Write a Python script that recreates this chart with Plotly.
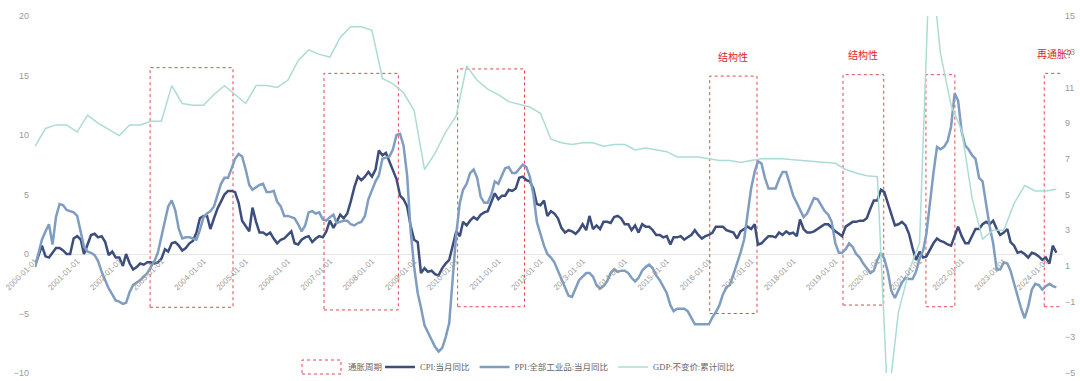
import pandas as pd
import plotly.graph_objects as go

# ---------------- data ----------------
# monthly observations (month-end), Dec 1999 .. Mar 2024
month_start = "2000-01-01"
n_months = 292

cpi = [-1.0,
       -0.2, 0.7, -0.2, -0.3, 0.1, 0.5, 0.5, 0.3, 0.0, 0.0, 1.3, 1.5,
       1.2, 0.0, 0.8, 1.6, 1.7, 1.4, 1.5, 1.0, -0.1, 0.2, -0.3, -0.3,
       -1.0, 0.0, -0.8, -1.3, -1.1, -0.8, -0.9, -0.7, -0.7, -0.8, -0.7, -0.4,
       0.4, 0.2, 0.9, 1.0, 0.7, 0.3, 0.5, 0.9, 1.1, 1.8, 3.0, 3.2,
       3.2, 2.1, 3.0, 3.8, 4.4, 5.0, 5.3, 5.3, 5.2, 4.3, 2.8, 2.4,
       1.9, 3.9, 2.7, 1.8, 1.8, 1.6, 1.8, 1.3, 0.9, 1.2, 1.3, 1.6,
       1.9, 0.9, 0.8, 1.2, 1.4, 1.5, 1.0, 1.3, 1.5, 1.4, 1.9, 2.8,
       2.2, 2.7, 3.3, 3.0, 3.4, 4.4, 5.6, 6.5, 6.2, 6.5, 6.9, 6.5,
       7.1, 8.7, 8.3, 8.5, 7.7, 7.1, 6.3, 4.9, 4.6, 4.0, 2.4, 1.2,
       1.0, -1.6, -1.2, -1.5, -1.4, -1.7, -1.8, -1.2, -0.8, -0.5, 0.6, 1.9,
       1.5, 2.7, 2.4, 2.8, 3.1, 2.9, 3.3, 3.5, 3.6, 4.4, 5.1, 4.6,
       4.9, 4.9, 5.4, 5.3, 5.5, 6.4, 6.5, 6.2, 6.1, 5.5, 4.2, 4.1,
       4.5, 3.2, 3.6, 3.4, 3.0, 2.2, 1.8, 2.0, 1.9, 1.7, 2.0, 2.5,
       2.0, 3.2, 2.1, 2.4, 2.1, 2.7, 2.7, 2.6, 3.1, 3.2, 3.0, 2.5,
       2.5, 2.0, 2.4, 1.8, 2.5, 2.3, 2.3, 2.0, 1.6, 1.6, 1.4, 1.5,
       0.8, 1.4, 1.4, 1.5, 1.2, 1.4, 1.6, 2.0, 1.6, 1.3, 1.5, 1.6,
       1.8, 2.3, 2.3, 2.3, 2.0, 1.9, 1.8, 1.3, 1.9, 2.1, 2.3, 2.1,
       2.5, 0.8, 0.9, 1.2, 1.5, 1.5, 1.4, 1.8, 1.6, 1.9, 1.7, 1.8,
       1.5, 2.9, 2.1, 1.8, 1.8, 1.9, 2.1, 2.3, 2.5, 2.5, 2.2, 1.9,
       1.7, 1.5, 2.3, 2.5, 2.7, 2.7, 2.8, 2.8, 3.0, 3.8, 4.5, 4.5,
       5.4, 5.2, 4.3, 3.3, 2.4, 2.5, 2.7, 2.4, 1.7, 0.5, -0.5, 0.2,
       -0.3, -0.2, 0.4, 0.9, 1.3, 1.1, 1.0, 0.8, 0.7, 1.5, 2.3, 1.5,
       0.9, 0.9, 1.5, 2.1, 2.1, 2.5, 2.7, 2.5, 2.8, 2.1, 1.6, 1.8,
       2.1, 1.0, 0.7, 0.1, 0.2, 0.0, -0.3, 0.1, 0.0, -0.2, -0.5, -0.3,
       -0.8, 0.7, 0.1]

ppi = [-1.1,
       0.0, 1.2, 1.9, 2.5, 0.8, 3.1, 4.2, 4.1, 3.7, 3.6, 3.5, 3.2,
       1.8, 0.6, 0.2, 0.1, -0.1, -0.6, -1.5, -2.2, -2.9, -3.4, -3.9, -4.0,
       -4.2, -4.1, -3.2, -2.6, -2.4, -2.2, -1.9, -1.6, -1.1, -0.6, 0.1, 1.4,
       2.8, 4.0, 4.5, 3.7, 2.1, 1.3, 1.4, 1.4, 1.3, 1.2, 2.0, 3.1,
       3.4, 3.6, 4.0, 5.0, 5.9, 6.4, 6.4, 7.2, 8.0, 8.4, 8.2, 7.1,
       5.8, 5.4, 5.6, 5.8, 5.9, 5.2, 5.2, 5.3, 4.4, 4.0, 3.2, 3.2,
       3.1, 3.0, 2.5, 1.9, 2.4, 3.5, 3.6, 3.4, 3.5, 2.9, 2.8, 3.1,
       3.3, 2.6, 2.7, 2.8, 2.8, 2.5, 2.4, 2.6, 2.7, 3.2, 4.6, 5.4,
       6.1, 6.6, 8.0, 8.1, 8.2, 8.8, 10.0, 10.1, 9.1, 6.6, 2.0, -1.1,
       -3.3, -4.5, -6.0, -6.6, -7.2, -7.8, -8.2, -7.9, -7.0, -5.8, -2.1, 1.7,
       4.3, 5.4, 5.9, 6.8, 7.1, 6.4, 4.8, 4.3, 4.3, 5.0, 6.1, 5.9,
       6.6, 7.2, 7.3, 6.8, 6.8, 7.1, 7.5, 7.3, 6.5, 5.0, 2.7, 1.7,
       0.7, 0.0, -0.3, -0.7, -1.4, -2.1, -2.9, -3.5, -3.6, -2.8, -2.2, -1.9,
       -1.6, -1.6, -1.9, -2.6, -2.9, -2.7, -2.3, -1.6, -1.3, -1.5, -1.4, -1.4,
       -1.6, -2.0, -2.3, -2.0, -1.4, -1.1, -0.9, -1.2, -1.8, -2.2, -2.7, -3.3,
       -4.3, -4.8, -4.6, -4.6, -4.6, -4.8, -5.4, -5.9, -5.9, -5.9, -5.9, -5.9,
       -5.3, -4.9, -4.3, -3.4, -2.8, -2.6, -1.7, -0.8, 0.1, 1.2, 3.3, 5.5,
       6.9, 7.8, 7.6, 6.4, 5.5, 5.5, 5.5, 6.3, 6.9, 6.9, 5.8, 4.9,
       4.3, 3.7, 3.1, 3.4, 4.1, 4.7, 4.6, 4.1, 3.6, 3.3, 2.7, 0.9,
       0.1, 0.1, 0.4, 0.9, 0.6, 0.0, -0.3, -0.8, -1.2, -1.6, -1.4, -0.5,
       0.1, -0.4, -1.5, -3.1, -3.7, -3.0, -2.4, -2.0, -2.1, -2.1, -1.5, -0.4,
       0.3, 1.7, 4.4, 6.8, 9.0, 8.8, 9.0, 9.5, 10.7, 13.5, 12.9, 10.3,
       9.1, 8.8, 8.3, 8.0, 6.4, 6.1, 4.2, 2.3, 0.9, -1.3, -1.3, -0.7,
       -0.8, -1.4, -2.5, -3.6, -4.6, -5.4, -4.4, -3.0, -2.5, -2.6, -3.0, -2.7,
       -2.5, -2.7, -2.8]

# quarterly cumulative GDP growth (quarter-end), 1999Q4 .. 2024Q1
gdp = [7.7,
       8.7, 8.9, 8.9, 8.5,
       9.45, 9.0, 8.67, 8.3,
       8.9, 8.9, 9.1, 9.1,
       11.1, 10.1, 10.0, 10.0,
       10.6, 11.1, 10.6, 10.1,
       11.1, 11.1, 11.0, 11.4,
       12.5, 13.1, 12.85, 12.7,
       13.8, 14.4, 14.4, 14.2,
       11.5, 11.2, 10.7, 9.7,
       6.4, 7.3, 8.5, 9.4,
       12.2, 11.4, 10.9, 10.6,
       10.2, 10.05, 9.9, 9.55,
       8.1, 7.9, 7.8, 7.9,
       7.9, 7.7, 7.8, 7.8,
       7.5, 7.6, 7.5, 7.4,
       7.1, 7.1, 7.1, 7.0,
       6.9, 6.9, 6.8, 6.9,
       7.0, 7.0, 7.0, 6.95,
       6.9, 6.85, 6.8, 6.75,
       6.4, 6.2, 6.05, 6.0,
       -6.8, -1.6, 0.7, 2.3,
       18.7, 12.9, 10.0, 8.6,
       4.8, 2.5, 3.0, 3.0,
       4.5, 5.5, 5.2, 5.2,
       5.3]

# inflation cycles (start, end) and box extents (left-axis units)
cycle_start = ["2002-09-24", "2006-11-10", "2010-01-12", "2016-01-07", "2019-03-08", "2021-02-24", "2023-12-17"]
cycle_end = ["2004-09-12", "2008-08-16", "2011-08-15", "2017-02-20", "2020-02-24", "2021-11-02", "2024-06-10"]
cycle_top = [15.66, 15.18, 15.55, 14.95, 15.07, 15.07, 15.18]
cycle_bottom = [-4.48, -4.70, -4.43, -5.00, -4.29, -4.43, -4.43]
cycle_label = ["", "", "", "结构性", "结构性", "", "再通胀?"]

names = ["通胀周期", "CPI:当月同比", "PPI:全部工业品:当月同比", "GDP:不变价:累计同比"]

# ---------------- figure ----------------
SY = 381 / 390          # the capture squeezes the page vertically by this factor
W, H = 1080, 390
ML, MR = 35, 18
MT, MB = 16 / SY, 8 / SY
PW, PH = W - ML - MR, H - MT - MB

m_dates = pd.date_range(month_start, periods=n_months, freq="MS") - pd.Timedelta(days=1)
q_dates = pd.date_range(month_start, periods=len(gdp), freq="3MS") - pd.Timedelta(days=1)

RED = "#e2464c"
box_x, box_y = [], []
for s, e, t, b in zip(cycle_start, cycle_end, cycle_top, cycle_bottom):
    box_x += [s, e, e, s, s, None]
    box_y += [b, b, t, t, b, None]

fig = go.Figure()
fig.add_trace(go.Scatter(x=box_x, y=box_y, name=names[0], mode="lines",
                         line=dict(color=RED, width=1, dash="dot"),
                         hoverinfo="skip", showlegend=False))
fig.add_trace(go.Scatter(x=m_dates, y=cpi, name=names[1], mode="lines",
                         line=dict(color="#3d4d7c", width=2.5)))
fig.add_trace(go.Scatter(x=m_dates, y=ppi, name=names[2], mode="lines",
                         line=dict(color="#7e9dc0", width=2.5)))
fig.add_trace(go.Scatter(x=q_dates, y=gdp, name=names[3], mode="lines", yaxis="y2",
                         line=dict(color="#acdcd5", width=1.5)))

for s, e, t, lab in zip(cycle_start, cycle_end, cycle_top, cycle_label):
    if lab:
        mid = pd.Timestamp(s) + (pd.Timestamp(e) - pd.Timestamp(s)) / 2
        fig.add_annotation(x=mid, y=t, xref="x", yref="y", text=lab, showarrow=False,
                           yanchor="middle", yshift=20,
                           font=dict(color="#d9262c", size=10, family="Noto Sans CJK SC"))


# legend entry for the inflation-cycle boxes (dotted rectangle + label); screen px -> paper
def px_x(p):
    return (p - ML) / PW


def px_y(p):
    return (H - MB - p / SY) / PH


LEG_FONT = dict(size=8.5, color="#666", family="Liberation Serif, Noto Sans CJK SC")
fig.add_shape(type="rect", xref="paper", yref="paper",
              x0=px_x(302), x1=px_x(341), y0=px_y(374), y1=px_y(360),
              line=dict(color=RED, width=1, dash="dot"), fillcolor="rgba(0,0,0,0)")
fig.add_annotation(xref="paper", yref="paper", x=px_x(346), y=px_y(367), text=names[0],
                   showarrow=False, xanchor="left", yanchor="middle", font=LEG_FONT)

tick_font = dict(size=9, color="#9a9a9a", family="Liberation Sans, Noto Sans CJK SC")
fig.update_layout(
    width=W, height=H,
    margin=dict(l=ML, r=MR, t=MT, b=MB),
    paper_bgcolor="white", plot_bgcolor="white",
    font=dict(family="Liberation Sans, Noto Sans CJK SC", color="#666"),
    showlegend=True,
    legend=dict(orientation="h", x=px_x(380), xanchor="left", y=px_y(367), yanchor="middle",
                bgcolor="rgba(0,0,0,0)", font=LEG_FONT, itemwidth=30, tracegroupgap=0),
    xaxis=dict(type="date", range=["1999-12-31", "2024-05-19"], anchor="free", position=1/3,
               tickformat="%Y-%m-%d", tick0="2000-01-01", dtick="M12", tickangle=-45,
               tickfont=dict(size=8, color="#9a9a9a", family="Liberation Sans"),
               showgrid=False, showline=False, ticks="", zeroline=False, automargin=False),
    yaxis=dict(range=[-10, 20], tick0=-10, dtick=5, showgrid=False, zeroline=True,
               zerolinecolor="#e6e6e6", zerolinewidth=1, ticks="", tickfont=tick_font,
               ticklabelstandoff=5, showline=False, automargin=False),
    yaxis2=dict(range=[-5, 15], tick0=-5, dtick=2, overlaying="y", side="right", anchor="x",
                showgrid=False, zeroline=False, ticks="", tickfont=tick_font,
                ticklabelstandoff=2, showline=False, automargin=False),
)

# remove the page's default body margin so the figure starts at the window's corner
fig.write_html("out.html", config={"displayModeBar": False},
               post_script="document.body.style.margin='0';document.body.style.overflow='hidden';")
